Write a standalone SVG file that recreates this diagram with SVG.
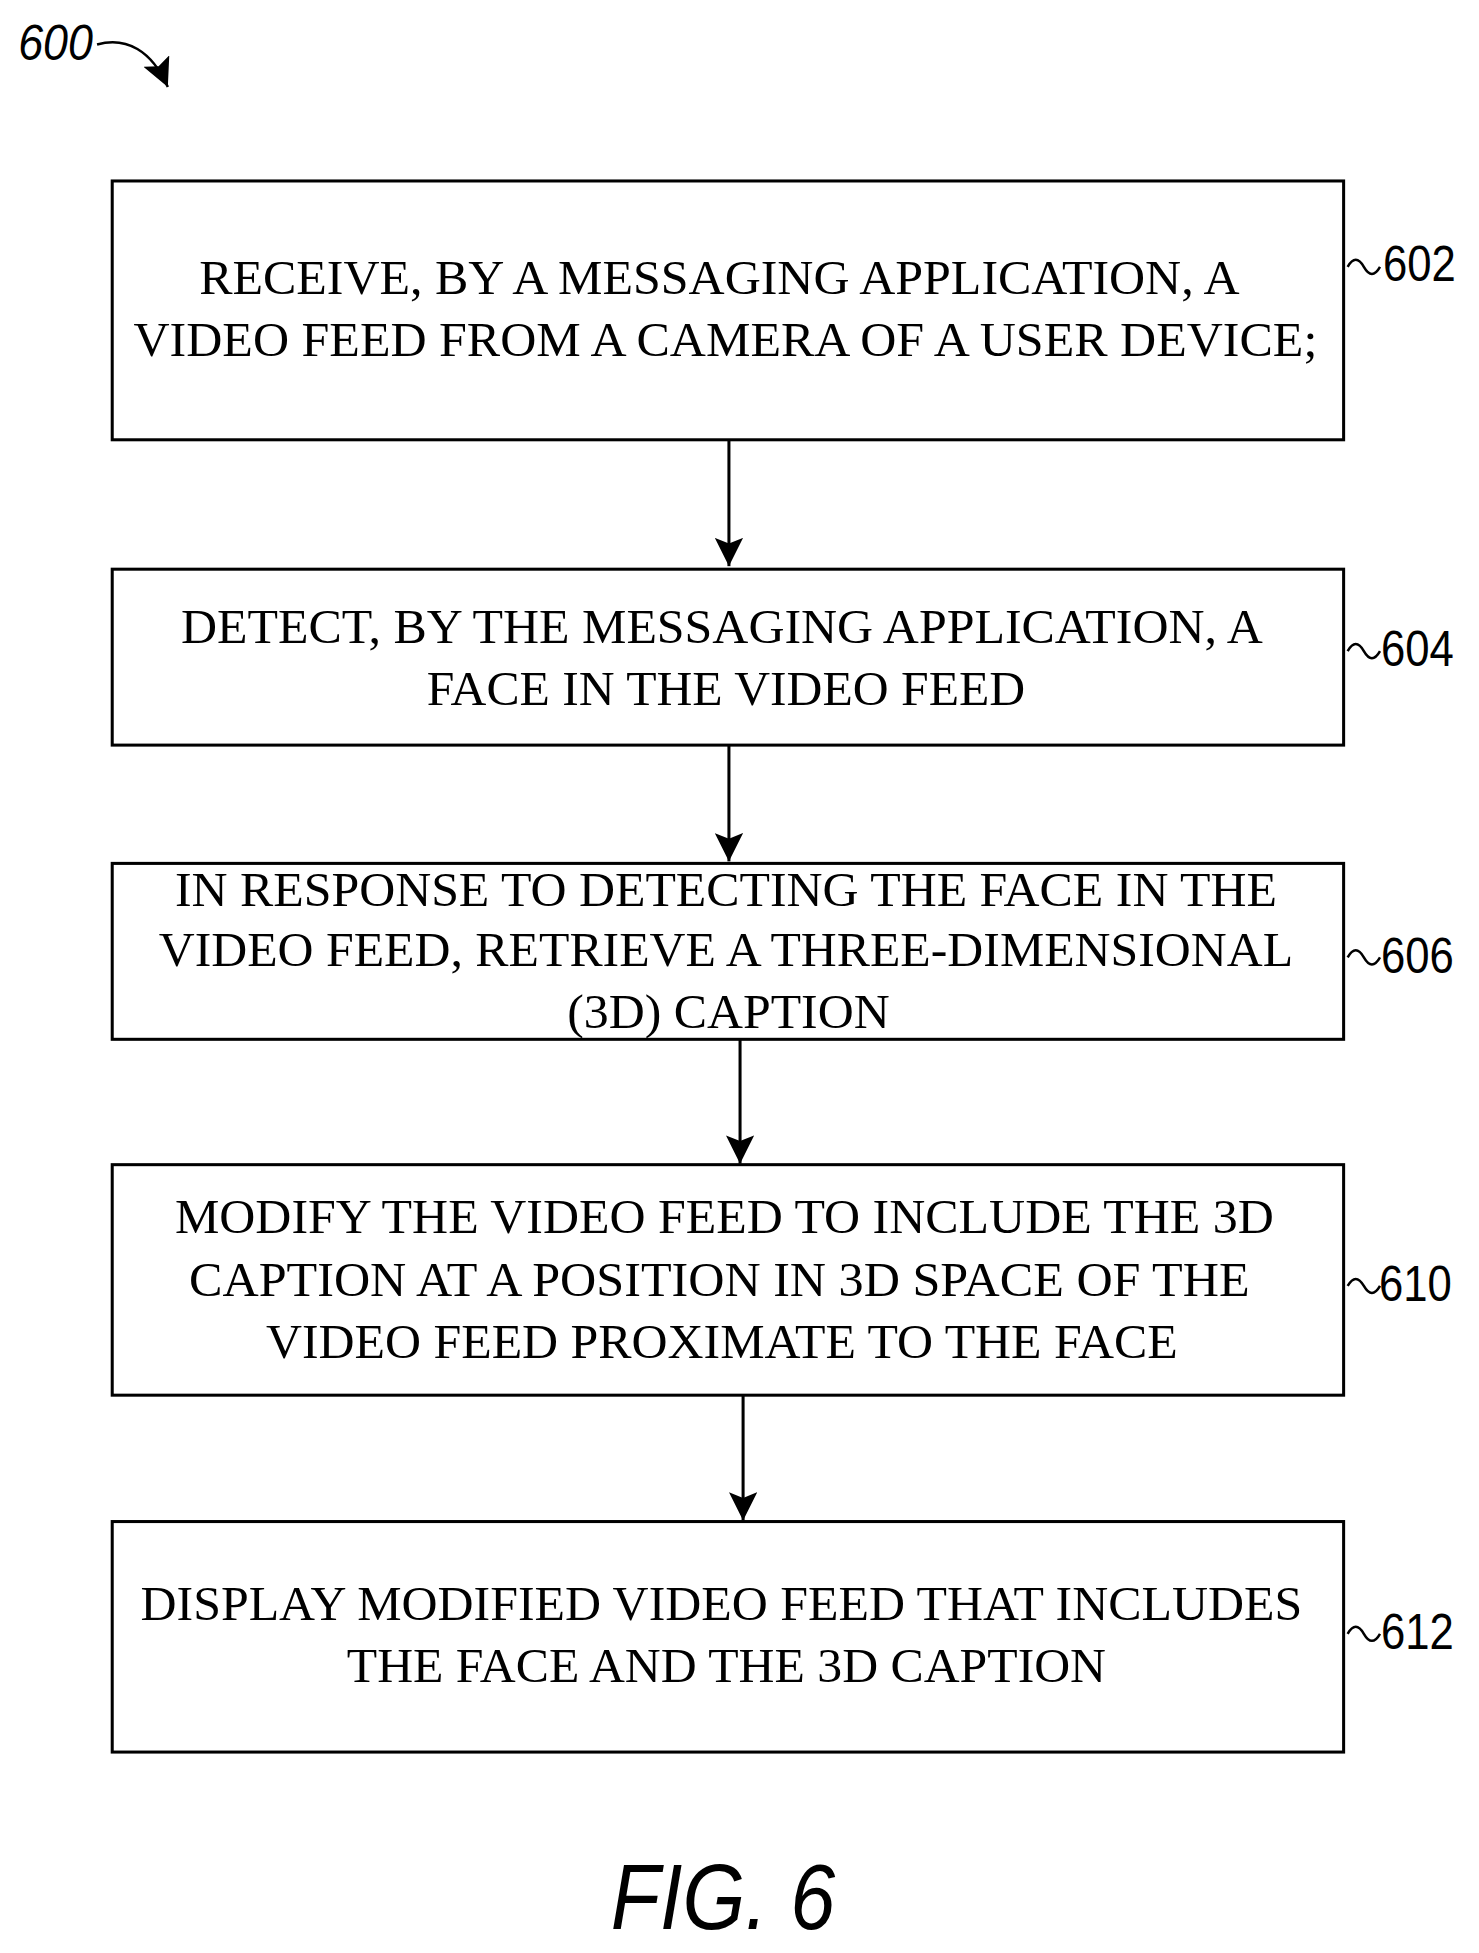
<svg xmlns="http://www.w3.org/2000/svg" width="1479" height="1953" viewBox="0 0 1479 1953">
<style>
.b{fill:none;stroke:#000;stroke-width:3}
.t{font-family:"Liberation Serif",serif;font-size:47px;fill:#000}
.n{font-family:"Liberation Sans",sans-serif;font-size:50px;fill:#000}
.c{fill:none;stroke:#000;stroke-width:3}
.w{fill:none;stroke:#000;stroke-width:2.5}
</style>
<defs>
<marker id="h" viewBox="0 0 10 10" refX="10" refY="5" markerWidth="28" markerHeight="28" orient="auto" markerUnits="userSpaceOnUse"><path d="M0,0 L10,5 L0,10 L2,5 Z" fill="#000"/></marker></defs>
<g transform="scale(1.011)">
<g id="label600"><text x="18" y="59" class="n" font-style="italic" textLength="74" lengthAdjust="spacingAndGlyphs">600</text><path class="w" d="M96,44 C125,36 150,50 166,86" marker-end="url(#h)"/></g>
<g id="n602"><rect class="b" x="111" y="179" width="1218" height="256"/>
<text class="t" x="197" y="291" textLength="1029" lengthAdjust="spacingAndGlyphs">RECEIVE, BY A MESSAGING APPLICATION, A</text>
<text class="t" x="132" y="352" textLength="1171" lengthAdjust="spacingAndGlyphs">VIDEO FEED FROM A CAMERA OF A USER DEVICE;</text>
<path class="w" d="M1333,264 q8,-14 16,0 t16,0"/><text class="n" x="1368" y="278" textLength="72" lengthAdjust="spacingAndGlyphs">602</text></g>
<g id="n604"><rect class="b" x="111" y="563" width="1218" height="174"/>
<text class="t" x="179" y="636" textLength="1070" lengthAdjust="spacingAndGlyphs">DETECT, BY THE MESSAGING APPLICATION, A</text>
<text class="t" x="422" y="697" textLength="592" lengthAdjust="spacingAndGlyphs">FACE IN THE VIDEO FEED</text>
<path class="w" d="M1333,644 q8,-14 16,0 t16,0"/><text class="n" x="1366" y="659" textLength="72" lengthAdjust="spacingAndGlyphs">604</text></g>
<g id="n606"><rect class="b" x="111" y="854" width="1218" height="174"/>
<text class="t" x="173" y="896" textLength="1090" lengthAdjust="spacingAndGlyphs">IN RESPONSE TO DETECTING THE FACE IN THE</text>
<text class="t" x="157" y="955" textLength="1122" lengthAdjust="spacingAndGlyphs">VIDEO FEED, RETRIEVE A THREE-DIMENSIONAL</text>
<text class="t" x="561" y="1017" textLength="319" lengthAdjust="spacingAndGlyphs">(3D) CAPTION</text>
<path class="w" d="M1333,947 q8,-14 16,0 t16,0"/><text class="n" x="1366" y="962" textLength="72" lengthAdjust="spacingAndGlyphs">606</text></g>
<g id="n610"><rect class="b" x="111" y="1152" width="1218" height="228"/>
<text class="t" x="173" y="1220" textLength="1087" lengthAdjust="spacingAndGlyphs">MODIFY THE VIDEO FEED TO INCLUDE THE 3D</text>
<text class="t" x="187" y="1282" textLength="1049" lengthAdjust="spacingAndGlyphs">CAPTION AT A POSITION IN 3D SPACE OF THE</text>
<text class="t" x="263" y="1343" textLength="902" lengthAdjust="spacingAndGlyphs">VIDEO FEED PROXIMATE TO THE FACE</text>
<path class="w" d="M1333,1272 q8,-14 16,0 t16,0"/><text class="n" x="1364" y="1287" textLength="72" lengthAdjust="spacingAndGlyphs">610</text></g>
<g id="n612"><rect class="b" x="111" y="1505" width="1218" height="228"/>
<text class="t" x="139" y="1602" textLength="1149" lengthAdjust="spacingAndGlyphs">DISPLAY MODIFIED VIDEO FEED THAT INCLUDES</text>
<text class="t" x="343" y="1664" textLength="751" lengthAdjust="spacingAndGlyphs">THE FACE AND THE 3D CAPTION</text>
<path class="w" d="M1333,1616 q8,-14 16,0 t16,0"/><text class="n" x="1366" y="1631" textLength="72" lengthAdjust="spacingAndGlyphs">612</text></g>
<g id="connectors">
<line class="c" x1="721" y1="435" x2="721" y2="560" marker-end="url(#h)"/>
<line class="c" x1="721" y1="737" x2="721" y2="852" marker-end="url(#h)"/>
<line class="c" x1="732" y1="1028" x2="732" y2="1151" marker-end="url(#h)"/>
<line class="c" x1="735" y1="1380" x2="735" y2="1504" marker-end="url(#h)"/>
</g>
<text x="604" y="1908" font-family="Liberation Sans,sans-serif" font-style="italic" font-size="92" textLength="222" lengthAdjust="spacingAndGlyphs">FIG. 6</text>
</g>
</svg>
